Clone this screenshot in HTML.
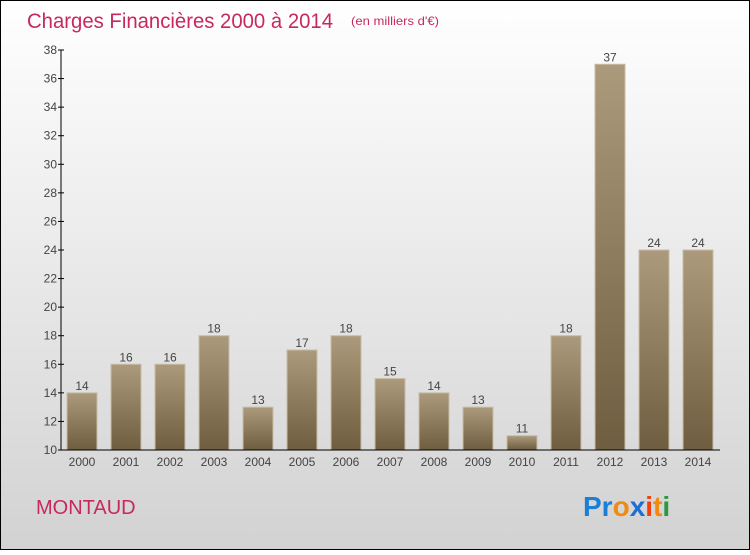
<!DOCTYPE html>
<html><head><meta charset="utf-8"><style>
html,body{margin:0;padding:0}
body{width:750px;height:550px;overflow:hidden;font-family:"Liberation Sans",sans-serif}
</style></head><body>
<svg width="750" height="550" xmlns="http://www.w3.org/2000/svg">
<defs>
<linearGradient id="bg" x1="0" y1="0" x2="0" y2="1"><stop offset="0" stop-color="#ffffff"/><stop offset="1" stop-color="#d2d2d2"/></linearGradient>
<linearGradient id="bar" x1="0" y1="0" x2="0" y2="1"><stop offset="0" stop-color="#ab9a7b"/><stop offset="1" stop-color="#6f5d40"/></linearGradient>
</defs>
<rect x="0.5" y="0.5" width="749" height="549" fill="url(#bg)" stroke="#000"/>
<text x="27" y="28" font-size="21" fill="#c8285f" textLength="306" lengthAdjust="spacingAndGlyphs">Charges Financières 2000 à 2014</text>
<text x="351" y="25" font-size="12" fill="#c8285f" textLength="88" lengthAdjust="spacingAndGlyphs">(en milliers d'€)</text>
<g id="yaxis"></g>
<g id="bars"></g>
<g id="xaxis"></g>
<text x="36" y="514" font-size="20" fill="#c8285f">MONTAUD</text>
<g font-size="28" font-weight="bold" font-family="'Liberation Sans',sans-serif">
<text x="583" y="516"><tspan fill="#1a7fd6">Pr</tspan><tspan fill="#f08a10">o</tspan><tspan fill="#1a6fd6">x</tspan><tspan fill="#f04010">i</tspan><tspan fill="#f08a10">t</tspan><tspan fill="#2a9a40">i</tspan></text>
</g>
</svg>
<script>
const years=["2000","2001","2002","2003","2004","2005","2006","2007","2008","2009","2010","2011","2012","2013","2014"];
const values=[14,16,16,18,13,17,18,15,14,13,11,18,37,24,24];
const yTicks=[10,12,14,16,18,20,22,24,26,28,30,32,34,36,38];
const NS="http://www.w3.org/2000/svg";
const yMin=10,yMax=38,plotTop=50,plotBot=450,plotLeft=61,plotRight=720;
function yScale(v){return plotBot-(v-yMin)/(yMax-yMin)*(plotBot-plotTop);}
function xScale(i){return 82+i*44;}
function mk(t,a,p){const e=document.createElementNS(NS,t);for(const k in a)e.setAttribute(k,a[k]);p.appendChild(e);return e;}
const ya=document.getElementById('yaxis'),xa=document.getElementById('xaxis'),bg=document.getElementById('bars');
mk('line',{x1:plotLeft,y1:plotTop,x2:plotLeft,y2:plotBot,stroke:'#000'},ya);
yTicks.forEach(t=>{
 mk('line',{x1:plotLeft-3,y1:yScale(t),x2:plotLeft+3,y2:yScale(t),stroke:'#000'},ya);
 const tx=mk('text',{x:plotLeft-4,y:yScale(t)+4,'font-size':12,'text-anchor':'end',fill:'#444'},ya);
 
 
 tx.textContent=t;
});
mk('line',{x1:plotLeft,y1:plotBot,x2:plotRight,y2:plotBot,stroke:'#000'},xa);
values.forEach((v,i)=>{
 const r=mk('rect',{x:xScale(i)-15,y:yScale(v),width:30,height:plotBot-yScale(v),fill:'url(#bar)',stroke:'#c8bca6','stroke-width':1},bg);
 
 
 const l=mk('text',{x:xScale(i),y:yScale(v)-3,'font-size':12,'text-anchor':'middle',fill:'#444'},bg);
 
 
 l.textContent=v;
 const t=mk('text',{x:xScale(i),y:plotBot+16,'font-size':12,'text-anchor':'middle',fill:'#444'},xa);
 
 
 t.textContent=years[i];
});
</script>
</body></html>
